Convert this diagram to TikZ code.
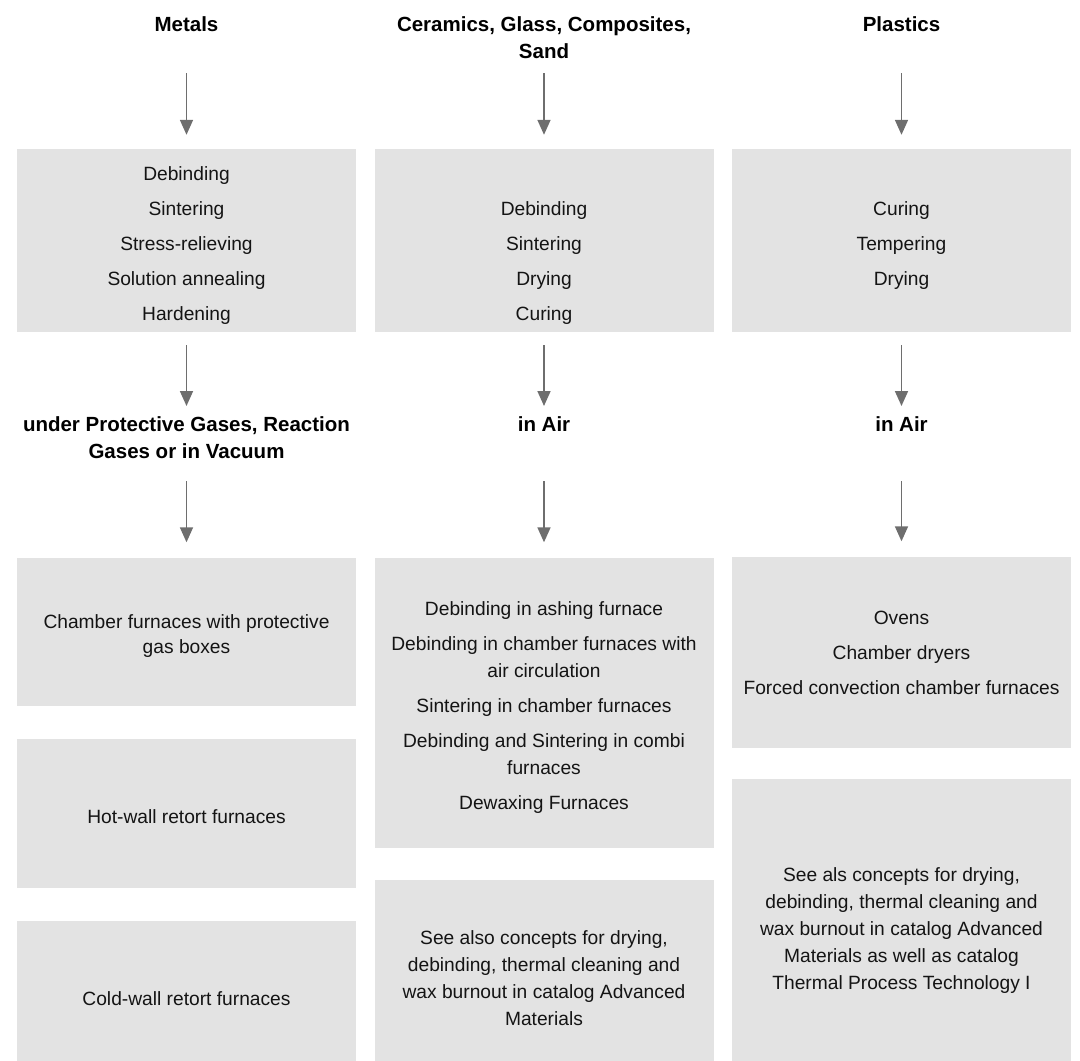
\documentclass[tikz,border=0pt]{standalone}
\usepackage{fontspec}
\setmainfont{Liberation Sans}
\usetikzlibrary{arrows.meta}
\definecolor{boxgray}{HTML}{E3E3E3}
\definecolor{arrowgray}{HTML}{6E6E6E}
\definecolor{txt}{HTML}{141414}
\newcommand{\regfont}{\fontsize{19.2}{27}\selectfont}
\newcommand{\hdfont}{\fontsize{20.5}{27}\selectfont\bfseries}
\newcommand{\lift}[1]{\rule{0pt}{#1}}
\begin{document}
\begin{tikzpicture}[x=1pt,y=-1pt,
  box/.style={fill=boxgray, draw=none, minimum width=339pt, inner sep=0pt,
    align=center, font=\regfont, text=txt},
  head/.style={inner sep=0pt, align=center, font=\hdfont, text=black, anchor=north},
  arr/.style={draw=arrowgray, line width=1.7pt,
    -{Triangle[width=13pt,length=15pt]}}]
\useasboundingbox (0,0) rectangle (1080,1061);
\clip (0,0) rectangle (1080,1061);

% headers
\node[head] (h1) at (186.5,16) {Metals};
\node[head] (h2) at (544,16) {Ceramics, Glass, Composites,\\Sand};
\node[head] (h3) at (901.5,16) {Plastics};

% process boxes
\node[box, minimum height=183pt] (b1) at (186.5,240.5)
  {\lift{24pt}Debinding\\[8pt]Sintering\\[8pt]Stress-relieving\\[8pt]Solution annealing\\[8pt]Hardening};
\node[box, minimum height=183pt] (b2) at (544,240.5)
  {\lift{24pt}\\[8pt]Debinding\\[8pt]Sintering\\[8pt]Drying\\[8pt]Curing};
\node[box, minimum height=183pt] (b3) at (901.5,240.5)
  {\lift{24pt}Curing\\[8pt]Tempering\\[8pt]Drying};

% atmosphere labels
\node[head] (m1) at (186.5,416.5) {under Protective Gases, Reaction\\Gases or in Vacuum};
\node[head] (m2) at (544,416.5) {in Air};
\node[head] (m3) at (901.5,416.5) {in Air};

% furnace boxes
\node[box, minimum height=148pt] (c1a) at (186.5,632)
  {\lift{21pt}Chamber furnaces with protective\\[-2pt]gas boxes};
\node[box, minimum height=149pt] (c1b) at (186.5,813.5)
  {\lift{20pt}Hot-wall retort furnaces};
\node[box, minimum height=155pt] (c1c) at (186.5,998.5)
  {Cold-wall retort furnaces};

\node[box, minimum height=290pt] (c2a) at (544,703)
  {\lift{22pt}Debinding in ashing furnace\\[8pt]Debinding in chamber furnaces with\\air circulation\\[8pt]Sintering in chamber furnaces\\[8pt]Debinding and Sintering in combi\\furnaces\\[8pt]Dewaxing Furnaces};
\node[box, minimum height=196pt] (c2b) at (544,978)
  {See also concepts for drying,\\debinding, thermal cleaning and\\wax burnout in catalog Advanced\\Materials};

\node[box, minimum height=191pt] (c3a) at (901.5,652.5)
  {Ovens\\[8pt]Chamber dryers\\[8pt]Forced convection chamber furnaces};
\node[box, minimum height=297pt] (c3b) at (901.5,927.5)
  {\lift{19.5pt}See als concepts for drying,\\debinding, thermal cleaning and\\wax burnout in catalog Advanced\\Materials as well as catalog\\Thermal Process Technology I};

% arrows
\draw[arr, shorten <=42pt, shorten >=14pt] (h1) -- (b1);
\draw[arr, shorten <=15pt, shorten >=14pt] (h2) -- (b2);
\draw[arr, shorten <=42pt, shorten >=14pt] (h3) -- (b3);

\draw[arr, shorten <=13pt, shorten >=10.5pt] (b1) -- (m1);
\draw[arr, shorten <=13pt, shorten >=10.5pt] (b2) -- (m2);
\draw[arr, shorten <=13pt, shorten >=10.5pt] (b3) -- (m3);

\draw[arr, shorten <=22.5pt, shorten >=15.5pt] (m1) -- (c1a);
\draw[arr, shorten <=49.5pt, shorten >=15.5pt] (m2) -- (c2a);
\draw[arr, shorten <=49.5pt, shorten >=15.5pt] (m3) -- (c3a);
\end{tikzpicture}
\end{document}
